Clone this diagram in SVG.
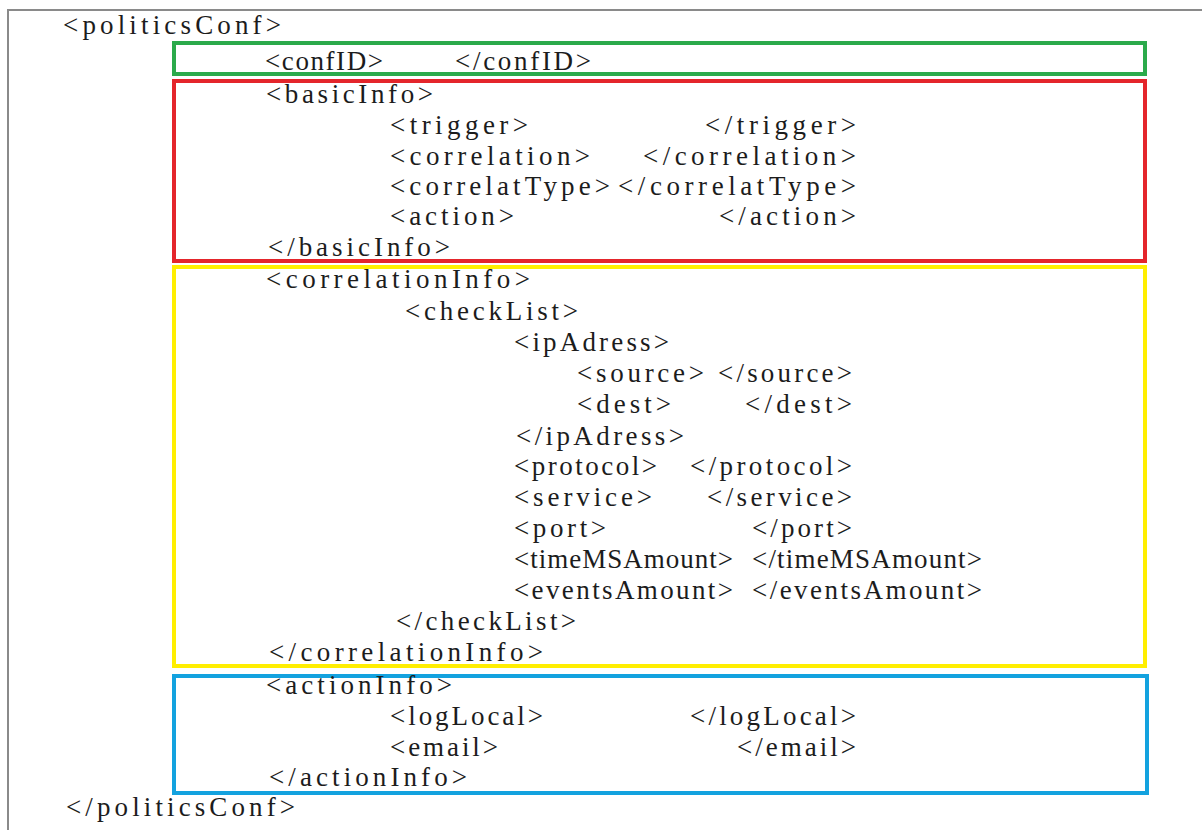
<svg xmlns="http://www.w3.org/2000/svg" width="1202" height="830" viewBox="0 0 1202 830">
  <style>
    .t { font-family: "Liberation Serif", "Times New Roman", serif; font-size: 27px; fill: #1c1c1c; }
    .frame { fill: none; stroke: #8a8a8a; stroke-width: 2; }
    .box { fill: none; stroke-width: 4; }
    .green { stroke: #2BAA4B; }
    .red { stroke: #E4252B; }
    .yellow { stroke: #FFEE00; }
    .blue { stroke: #13A2DF; }
  </style>
  <rect width="1202" height="830" fill="#ffffff"/>

  <!-- page frame (top and left edges) -->
  <path class="frame" d="M8,830 V10 H1202"/>

  <!-- root element -->
  <g id="politicsConf">
    <text class="t" x="63" y="34" textLength="218" lengthAdjust="spacing">&lt;politicsConf&gt;</text>
    <text class="t" x="66" y="816" textLength="229" lengthAdjust="spacing">&lt;/politicsConf&gt;</text>
  </g>

  <!-- configuration id -->
  <g id="confID">
    <rect class="box green" x="174" y="43" width="971" height="31"/>
    <text class="t" x="265" y="70" textLength="118" lengthAdjust="spacing">&lt;confID&gt;</text>
    <text class="t" x="455" y="70" textLength="136" lengthAdjust="spacing">&lt;/confID&gt;</text>
  </g>

  <!-- basic information -->
  <g id="basicInfo">
    <rect class="box red" x="174" y="81" width="971" height="180"/>
    <text class="t" x="266" y="103" textLength="167" lengthAdjust="spacing">&lt;basicInfo&gt;</text>
    <text class="t" x="390" y="134" textLength="138" lengthAdjust="spacing">&lt;trigger&gt;</text>
    <text class="t" x="705" y="134" textLength="151" lengthAdjust="spacing">&lt;/trigger&gt;</text>
    <text class="t" x="390" y="165" textLength="200" lengthAdjust="spacing">&lt;correlation&gt;</text>
    <text class="t" x="643" y="165" textLength="213" lengthAdjust="spacing">&lt;/correlation&gt;</text>
    <text class="t" x="390" y="195" textLength="220" lengthAdjust="spacing">&lt;correlatType&gt;</text>
    <text class="t" x="618" y="195" textLength="238" lengthAdjust="spacing">&lt;/correlatType&gt;</text>
    <text class="t" x="390" y="225" textLength="124" lengthAdjust="spacing">&lt;action&gt;</text>
    <text class="t" x="719" y="225" textLength="137" lengthAdjust="spacing">&lt;/action&gt;</text>
    <text class="t" x="268" y="256" textLength="182" lengthAdjust="spacing">&lt;/basicInfo&gt;</text>
  </g>

  <!-- correlation information -->
  <g id="correlationInfo">
    <rect class="box yellow" x="174" y="267" width="971" height="399"/>
    <text class="t" x="266" y="288" textLength="264" lengthAdjust="spacing">&lt;correlationInfo&gt;</text>
    <text class="t" x="405" y="320" textLength="173" lengthAdjust="spacing">&lt;checkList&gt;</text>
    <text class="t" x="514" y="351" textLength="155" lengthAdjust="spacing">&lt;ipAdress&gt;</text>
    <text class="t" x="577" y="382" textLength="127" lengthAdjust="spacing">&lt;source&gt;</text>
    <text class="t" x="718" y="382" textLength="134" lengthAdjust="spacing">&lt;/source&gt;</text>
    <text class="t" x="577" y="413" textLength="94" lengthAdjust="spacing">&lt;dest&gt;</text>
    <text class="t" x="745" y="413" textLength="107" lengthAdjust="spacing">&lt;/dest&gt;</text>
    <text class="t" x="516" y="445" textLength="168" lengthAdjust="spacing">&lt;/ipAdress&gt;</text>
    <text class="t" x="514" y="475" textLength="143" lengthAdjust="spacing">&lt;protocol&gt;</text>
    <text class="t" x="690" y="475" textLength="162" lengthAdjust="spacing">&lt;/protocol&gt;</text>
    <text class="t" x="514" y="506" textLength="138" lengthAdjust="spacing">&lt;service&gt;</text>
    <text class="t" x="707" y="506" textLength="145" lengthAdjust="spacing">&lt;/service&gt;</text>
    <text class="t" x="514" y="537" textLength="92" lengthAdjust="spacing">&lt;port&gt;</text>
    <text class="t" x="752" y="537" textLength="100" lengthAdjust="spacing">&lt;/port&gt;</text>
    <text class="t" x="514" y="568" textLength="219" lengthAdjust="spacing">&lt;timeMSAmount&gt;</text>
    <text class="t" x="752" y="568" textLength="230" lengthAdjust="spacing">&lt;/timeMSAmount&gt;</text>
    <text class="t" x="514" y="599" textLength="219" lengthAdjust="spacing">&lt;eventsAmount&gt;</text>
    <text class="t" x="752" y="599" textLength="230" lengthAdjust="spacing">&lt;/eventsAmount&gt;</text>
    <text class="t" x="396" y="630" textLength="180" lengthAdjust="spacing">&lt;/checkList&gt;</text>
    <text class="t" x="269" y="661" textLength="274" lengthAdjust="spacing">&lt;/correlationInfo&gt;</text>
  </g>

  <!-- action information -->
  <g id="actionInfo">
    <rect class="box blue" x="174" y="676" width="973" height="117"/>
    <text class="t" x="266" y="694" textLength="186" lengthAdjust="spacing">&lt;actionInfo&gt;</text>
    <text class="t" x="390" y="725" textLength="153" lengthAdjust="spacing">&lt;logLocal&gt;</text>
    <text class="t" x="690" y="725" textLength="166" lengthAdjust="spacing">&lt;/logLocal&gt;</text>
    <text class="t" x="390" y="756" textLength="108" lengthAdjust="spacing">&lt;email&gt;</text>
    <text class="t" x="737" y="756" textLength="119" lengthAdjust="spacing">&lt;/email&gt;</text>
    <text class="t" x="269" y="786" textLength="198" lengthAdjust="spacing">&lt;/actionInfo&gt;</text>
  </g>
</svg>
